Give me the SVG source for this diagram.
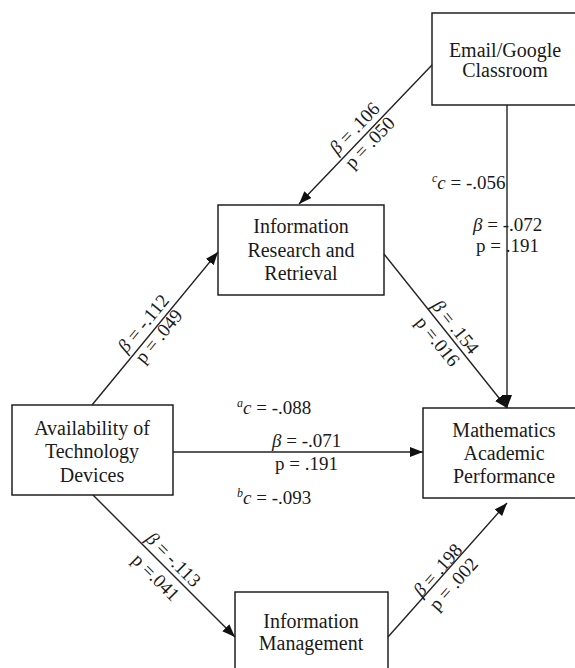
<svg xmlns="http://www.w3.org/2000/svg" width="575" height="668" viewBox="0 0 575 668" font-family="Liberation Serif, Times New Roman, serif">
<style>
.box{fill:#fff;stroke:#111;stroke-width:1.4}
text{font-family:"Liberation Serif","Times New Roman",serif}
.t{font-size:20px;fill:#1a1a1a;text-anchor:middle}
.l{font-size:19px;fill:#1a1a1a}
.c{text-anchor:middle}
.conn{stroke:#222;stroke-width:1.4;fill:none;marker-end:url(#arr)}
.it{font-style:italic}
</style>
<defs>
<marker id="arr" markerUnits="userSpaceOnUse" markerWidth="14" markerHeight="11" refX="13" refY="5" orient="auto">
<path d="M0,0 L13,5 L0,10 z" fill="#111"/>
</marker>
</defs>
<rect width="575" height="668" fill="#fff"/>
<g id="email">
<rect class="box" x="432" y="13" width="150" height="92"/>
<text class="t" x="505" y="57">Email/Google</text>
<text class="t" x="505" y="77">Classroom</text>
</g>
<g id="infores">
<rect class="box" x="218" y="205" width="166" height="90"/>
<text class="t" x="301" y="233">Information</text>
<text class="t" x="301" y="257">Research and</text>
<text class="t" x="301" y="280">Retrieval</text>
</g>
<g id="avail">
<rect class="box" x="12" y="405" width="161" height="90"/>
<text class="t" x="92" y="435">Availability of</text>
<text class="t" x="92" y="458">Technology</text>
<text class="t" x="92" y="482">Devices</text>
</g>
<g id="math">
<rect class="box" x="423" y="408" width="162" height="90"/>
<text class="t" x="504" y="437">Mathematics</text>
<text class="t" x="504" y="460">Academic</text>
<text class="t" x="504" y="483">Performance</text>
</g>
<g id="infomgmt">
<rect class="box" x="235" y="592" width="153" height="90"/>
<text class="t" x="311" y="628">Information</text>
<text class="t" x="311" y="650">Management</text>
</g>
<g id="connectors">
<line class="conn" x1="432" y1="65" x2="299" y2="204"/>
<line class="conn" x1="507" y1="105" x2="507" y2="408"/>
<line class="conn" x1="384" y1="254" x2="507" y2="408"/>
<line class="conn" x1="92" y1="405" x2="218" y2="252"/>
<line class="conn" x1="173" y1="452" x2="423" y2="452"/>
<line class="conn" x1="93" y1="495" x2="235" y2="637"/>
<line class="conn" x1="388" y1="637" x2="507" y2="503"/>
</g>
<g id="labels">
<g transform="translate(363.4,136.6) rotate(-46.3)">
<text class="l c" x="0" y="-6"><tspan class="it">β</tspan> = .106</text>
<text class="l c" x="0" y="15">p = .050</text>
</g>
<g transform="translate(152.8,331.2) rotate(-50.5)">
<text class="l c" x="0" y="-6"><tspan class="it">β</tspan> = -.112</text>
<text class="l c" x="0" y="14">p = .049</text>
</g>
<g transform="translate(447.5,333.4) rotate(51.4)">
<text class="l c" x="0" y="-4"><tspan class="it">β</tspan> = .154</text>
<text class="l c" x="0" y="19">p =.016</text>
</g>
<g transform="translate(165.5,567.5) rotate(45)">
<text class="l c" x="0" y="-5"><tspan class="it">β</tspan> = -.113</text>
<text class="l c" x="0" y="20">p =.041</text>
</g>
<g transform="translate(443.1,574.9) rotate(-48.4)">
<text class="l c" x="0" y="-1"><tspan class="it">β</tspan> = .198</text>
<text class="l c" x="0" y="20">p = .002</text>
</g>
<text class="l" x="432" y="189"><tspan class="it" font-size="12" dy="-7">c</tspan><tspan class="it" dy="7">c</tspan> = -.056</text>
<text class="l" x="473" y="231"><tspan class="it">β</tspan> = -.072</text>
<text class="l" x="476" y="252">p = .191</text>
<text class="l" x="237" y="414"><tspan class="it" font-size="12" dy="-7">a</tspan><tspan class="it" dy="7">c</tspan> = -.088</text>
<text class="l" x="272" y="447"><tspan class="it">β</tspan> = -.071</text>
<text class="l" x="275" y="470">p = .191</text>
<text class="l" x="237" y="504"><tspan class="it" font-size="12" dy="-7">b</tspan><tspan class="it" dy="7">c</tspan> = -.093</text>
</g>
</svg>
